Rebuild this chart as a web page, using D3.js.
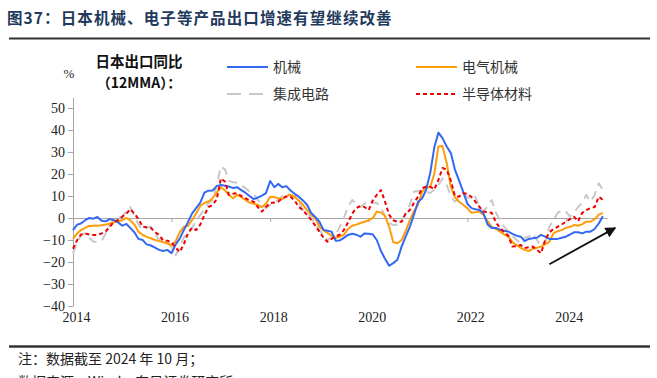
<!DOCTYPE html>
<html>
<head>
<meta charset="utf-8">
<script src="https://cdn.jsdelivr.net/npm/d3@7"></script>
<style>
  html, body { margin: 0; padding: 0; background: #fff; }
  svg { display: block; }
</style>
</head>
<body>
<div id="chart"></div>
<script>
// monthly values, Jan 2014 .. Oct 2024 (12MMA, %)
const startYear = 2014;

const machinery = [
  -5.5, -3, -2.5, -1, 0, -0.3, 0.5, -1.2, -1.5, -0.5, -1, -2,
  -3.5, -2.7, -4.5, -6.5, -9.5, -10, -12, -12.5, -13.5, -14.5, -15, -14.5,
  -16, -12, -9.5, -5.5, -2, 2, 4.5, 7, 11.5, 12.4, 12.5, 14.5,
  15, 14.7, 14.3, 13.6, 14, 12.7, 11.5, 10, 8.6, 9.3, 10.2, 11.3,
  16.8, 14, 15.5, 14, 14.5, 12.5, 11, 9.7, 8, 6, 2.3, 0.5,
  -1.7, -5.5, -5.8, -6.2, -10.3, -10.2, -9, -7.7, -7.2, -7.6, -8.5, -7,
  -7.2, -7.5, -10, -15, -18.5, -21.7, -20.5, -19, -13, -8.5, -4, 1.4,
  7.4, 9, 12.7, 20.4, 32, 38.8, 36.3, 32.5, 29.5, 22, 17, 12,
  6.5, 4.5, 4, 3.6, 2, -3, -4.5, -4.5, -5.3, -5.8, -6.2, -7.2,
  -8, -8.5, -10.5, -9.5, -9.2, -9, -7.7, -8.5, -9.5, -9.5, -9.5, -9,
  -8.5, -7.5, -6.5, -6.5, -7, -6.2, -6.2, -5, -2.5, 0.8
];

const electrical = [
  -9.5, -7, -5.5, -4.5, -3.6, -3.5, -3.5, -3.3, -3, -2.5, -2, -1.5,
  -1, 0, -1, -3, -6.2, -7.7, -8.6, -9.2, -10, -10.5, -11, -11.5,
  -12.5, -10.5, -6.5, -4, -3.6, -1, 2, 5.5, 6.8, 7.5, 9, 11.5,
  14, 12.5, 10.5, 9, 10.5, 9.5, 8.2, 7, 6.4, 6, 5, 6.5,
  9.7, 9.5, 9, 8.5, 10, 10.5, 9.7, 8, 6, 3.6, 1.5, 0,
  -4, -5.5, -6.8, -8, -9, -8.5, -7.7, -5, -3.5, -3, -2.3, -1.7,
  -1, 0, 2.9, 2.5, 1, -4, -11, -11.5, -10, -6, -1, 3,
  6, 12, 13.6, 14.2, 20, 32.5, 32.7, 25, 14.2, 9.5, 7.4, 6,
  4.5, 2.4, 2.6, 2.9, 1.5, -1.5, -4, -5, -6.2, -7.5, -8.5, -11,
  -12.3, -13.6, -14.5, -15, -14, -13.5, -13, -12, -10.8, -7, -6, -5.5,
  -4.5, -4, -3.2, -3.5, -2.8, -1.7, -1.7, -0.5, 1.5, 2.3
];

const integratedCircuits = [
  -16, -11, -8, -7, -9, -10.8, -10.8, -10.5, -7, -3, -0.9, 0.3,
  0.6, 3, 5, 1, -3, -5.5, -4.5, -4, -7, -10, -10, -10.5,
  -13, -17, -13, -9, -6.2, -4.5, -1.5, 1.4, 4, 6.8, 8.2, 15,
  23.5, 22, 17, 16.2, 16, 15, 13.6, 12, 11, 8.2, 6, 4.5,
  6, 7, 8.2, 10, 11.3, 10.5, 9.7, 7, 3.6, 2, 0.6, -3,
  -5.5, -8, -10, -9, -7.7, -4, 0, 5, 8.2, 6, 5, 6.5,
  8.2, 7, 6.8, 5, 0.6, -2.3, -3.2, -3, -0.9, 2, 6, 12,
  12.3, 12.7, 12, 11.3, 13, 15, 18, 15, 10, 7.4, 9, 11,
  9.5, 8.2, 9.7, 5, 2.9, 5.5, 8.2, 2.3, -1, -4, -6.2, -8,
  -10, -11.5, -9, -8.5, -7, -10, -13, -10.8, -4, -1, 2.3, 3.6,
  2.9, 0.6, 2.5, 5, 6.8, 10.5, 7.4, 10.5, 15.8, 12.7
];

const semiconductorMaterials = [
  -14, -10, -7.5, -7, -7.5, -7.7, -7.7, -7, -6, -4, -1.7, -0.9,
  0.6, 2, 4, 2, -0.5, -4, -4.2, -4.5, -6.5, -7.7, -10.3, -10.3,
  -11, -13.5, -15.5, -12, -7, -4.5, -5.5, -3, 1.4, 5, 6, 8.5,
  18, 16.5, 10.5, 11, 11.3, 10, 9, 8, 7.4, 5, 2.9, 5,
  6.8, 7, 7.4, 9, 9.7, 9.7, 8, 5, 3.6, 1.4, -0.9, -3.5,
  -6.2, -9, -10.8, -9.5, -8.5, -7.5, -5.5, -2, 2, 4.5, 5.5, 5,
  3.6, 8, 10.5, 12.7, 7.4, 1.4, -1, -1.7, -1.7, 2, 3.6, 6.8,
  9.7, 13.6, 14.2, 14.2, 13, 17.3, 22.7, 22, 17, 10, 9.7, 11.3,
  11, 9.5, 7.5, 5, 3, 2.5, 2.4, -2, -4.5, -6.5, -8, -13,
  -12.8, -12.3, -13.6, -13.3, -13, -14.5, -16, -10, -6.5, -5, -4, -3,
  -1.7, -0.5, 0.6, -1.5, 2.3, 3.6, 4.5, 5, 9.7, 8.2
];

const yTicks = [-40, -30, -20, -10, 0, 10, 20, 30, 40, 50];
const xTickYears = [2014, 2016, 2018, 2020, 2022, 2024];

const seriesNames = ['机械', '电气机械', '集成电路', '半导体材料'];

// trend arrow, in data units: [month index, value]
const arrowFrom = [116.5, -21];
const arrowTo = [132.3, -4.5];

const W = 657;
const H = 378;
const SERIF = '"Liberation Serif", "DejaVu Serif", serif';
const CJK = '"Noto Sans CJK SC", sans-serif';

const toDate = (i) => new Date(startYear, i, 1);

const x = d3.scaleTime()
  .domain([new Date(2014, 0, 1), new Date(2024, 10, 1)])
  .range([73, 607]);
const y = d3.scaleLinear().domain([-40, 55]).range([306, 97]);

const svg = d3.select('#chart').append('svg')
  .attr('width', W)
  .attr('height', H);

// title + rules
svg.append('text')
  .attr('font-family', CJK)
  .attr('x', 7).attr('y', 24)
  .attr('font-size', 15.5).attr('font-weight', 'bold')
  .attr('letter-spacing', 1.1)
  .attr('fill', '#22395c')
  .text('图37：日本机械、电子等产品出口增速有望继续改善');

svg.append('line')
  .attr('x1', 9).attr('x2', 650).attr('y1', 38.5).attr('y2', 38.5)
  .attr('stroke', '#333').attr('stroke-width', 2);

svg.append('line')
  .attr('x1', 9).attr('x2', 650).attr('y1', 346.5).attr('y2', 346.5)
  .attr('stroke', '#333').attr('stroke-width', 2.5);

// y axis
const yAxis = svg.append('g')
  .attr('transform', 'translate(73,0)')
  .call(d3.axisLeft(y).tickValues(yTicks).tickSize(5).tickPadding(3).tickSizeOuter(0))
  .attr('font-family', SERIF)
  .attr('font-size', 14);
yAxis.select('.domain').attr('stroke', '#a6a6a6');
yAxis.selectAll('.tick line').attr('stroke', '#a6a6a6');
yAxis.selectAll('.tick text').attr('fill', '#222');

// zero line with year ticks
const zeroAxis = svg.append('g')
  .attr('transform', `translate(0,${y(0)})`)
  .call(d3.axisBottom(x)
    .tickValues(xTickYears.map(yr => new Date(yr, 0, 1)))
    .tickSize(4).tickSizeOuter(0).tickFormat(''));
zeroAxis.select('.domain').attr('stroke', '#a6a6a6');
zeroAxis.selectAll('.tick line').attr('stroke', '#a6a6a6');

// year labels along bottom
const xLabels = svg.append('g')
  .attr('transform', `translate(3,${y(-40)})`)
  .call(d3.axisBottom(x)
    .tickValues(xTickYears.map(yr => new Date(yr, 0, 1)))
    .tickSize(0).tickPadding(6).tickFormat(d3.timeFormat('%Y')))
  .attr('font-family', SERIF)
  .attr('font-size', 14);
xLabels.select('.domain').remove();
xLabels.selectAll('.tick text').attr('fill', '#222');

// unit + inner caption
svg.append('text')
  .attr('font-family', SERIF)
  .attr('x', 69).attr('y', 78)
  .attr('text-anchor', 'middle')
  .attr('font-size', 13).attr('fill', '#222')
  .text('%');

svg.append('text')
  .attr('font-family', CJK)
  .attr('x', 139).attr('y', 67)
  .attr('text-anchor', 'middle')
  .attr('font-size', 14.5).attr('font-weight', 'bold').attr('fill', '#111')
  .text('日本出口同比');

svg.append('text')
  .attr('font-family', CJK)
  .attr('x', 139).attr('y', 88)
  .attr('text-anchor', 'middle')
  .attr('font-size', 14).attr('font-weight', 'bold').attr('fill', '#111')
  .text('（12MMA）：');

// series
const styles = [
  { color: '#3468f2', width: 2, dash: null },
  { color: '#ff9c0a', width: 2, dash: null },
  { color: '#c8c8c8', width: 2, dash: '9,6' },
  { color: '#f00000', width: 2, dash: '4,3' }
];
const allSeries = [machinery, electrical, integratedCircuits, semiconductorMaterials];

const line = d3.line()
  .x((d, i) => x(toDate(i)))
  .y(d => y(d));

// draw order: gray first, then orange, blue, red on top
[2, 1, 0, 3].forEach((k) => {
  svg.append('path')
    .datum(allSeries[k])
    .attr('d', line)
    .attr('fill', 'none')
    .attr('stroke', styles[k].color)
    .attr('stroke-width', styles[k].width)
    .attr('stroke-linejoin', 'round')
    .attr('stroke-dasharray', styles[k].dash);
});

// legend
const legendPos = [[227, 67], [416, 67], [227, 94], [416, 94]];
seriesNames.forEach((name, k) => {
  const [lx, ly] = legendPos[k];
  svg.append('line')
    .attr('x1', lx).attr('x2', lx + 41)
    .attr('y1', ly).attr('y2', ly)
    .attr('stroke', styles[k].color)
    .attr('stroke-width', 2)
    .attr('stroke-dasharray', k === 2 ? '14,8' : (k === 3 ? '4,3' : null));
  svg.append('text')
    .attr('font-family', CJK)
    .attr('x', lx + 46).attr('y', ly + 5)
    .attr('font-size', 14).attr('fill', '#333')
    .text(name);
});

// trend arrow
svg.append('defs').append('marker')
  .attr('id', 'arrowHead')
  .attr('viewBox', '0 0 10 10')
  .attr('refX', 9).attr('refY', 5)
  .attr('markerWidth', 6).attr('markerHeight', 6)
  .attr('orient', 'auto')
  .append('path')
  .attr('d', 'M0,0L10,5L0,10Z')
  .attr('fill', '#111');

svg.append('line')
  .attr('x1', x(toDate(arrowFrom[0]))).attr('y1', y(arrowFrom[1]))
  .attr('x2', x(toDate(arrowTo[0]))).attr('y2', y(arrowTo[1]))
  .attr('stroke', '#111').attr('stroke-width', 1.8)
  .attr('marker-end', 'url(#arrowHead)');

// footnotes (second line is cut by the bottom edge, as in the source image)
svg.append('text')
  .attr('font-family', CJK)
  .attr('x', 18).attr('y', 364)
  .attr('font-size', 14).attr('fill', '#222')
  .text('注：数据截至 2024 年 10 月；');

svg.append('text')
  .attr('font-family', CJK)
  .attr('x', 18).attr('y', 387)
  .attr('font-size', 14).attr('fill', '#222')
  .text('数据来源：Wind，东吴证券研究所');
</script>
</body>
</html>
